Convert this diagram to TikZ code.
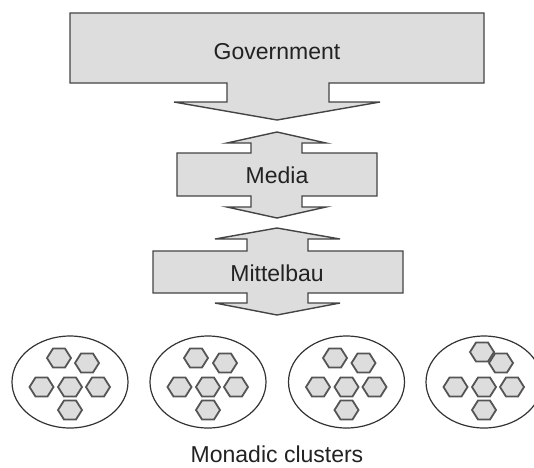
\documentclass[tikz,border=0pt]{standalone}
\usepackage{fontspec}
\setmainfont{Liberation Sans}
\definecolor{boxfill}{HTML}{DDDDDD}
\definecolor{boxline}{HTML}{444444}
\definecolor{hexline}{HTML}{555555}
\definecolor{txt}{HTML}{222222}
\begin{document}
\begin{tikzpicture}[x=1pt,y=-1pt,
  block/.style={draw=boxline,fill=boxfill,line width=1.4pt,line join=miter},
  cluster/.style={draw=black!80,line width=1.2pt},
  label/.style={font=\fontsize{23}{27}\selectfont,text=txt,anchor=base,inner sep=0pt},
  hexcell/.pic={\draw[draw=hexline,fill=boxfill,line width=1.8pt,line join=miter]
     (-12,0)--(-6,-9.5)--(6,-9.5)--(12,0)--(6,9.5)--(-6,9.5)--cycle;}]
\clip (0,0) rectangle (534,467);
% Government
\draw[block] (70,13)--(484,13)--(484,83)--(329,83)--(329,102)--(380,102)--(277,120)
  --(174,102)--(227,102)--(227,83)--(70,83)--cycle;
\node[label] (gov) at (277,59) {Government};
% Media
\draw[block] (177,153)--(251,153)--(251,143)--(227,143)--(277,132)--(326,143)--(302,143)
  --(302,153)--(377,153)--(377,196)--(302,196)--(302,207)--(326,207)--(277,218)
  --(227,207)--(251,207)--(251,196)--(177,196)--cycle;
\node[label] (media) at (277,183) {Media};
% Mittelbau
\draw[block] (153,251)--(247,251)--(247,239)--(215,239)--(277,228)--(340,239)--(308,239)
  --(308,251)--(403,251)--(403,293)--(308,293)--(308,303)--(340,303)--(277,315)
  --(215,303)--(247,303)--(247,293)--(153,293)--cycle;
\node[label] (mittel) at (277,281) {Mittelbau};
% Clusters
\foreach \cx/\tx/\ty in {70/-11/-24, 208/-12/-24, 346.5/-11.5/-24, 484/-2/-30} {
  \draw[cluster] (\cx,382) ellipse [x radius=58, y radius=46];
  \pic at (\cx+\tx,382+\ty) {hexcell};
  \pic at (\cx+17,363) {hexcell};
  \pic at (\cx-28.5,387) {hexcell};
  \pic at (\cx,387) {hexcell};
  \pic at (\cx+28,387) {hexcell};
  \pic at (\cx,410) {hexcell};
}
\node[label] (mc) at (277,462) {Monadic clusters};
\end{tikzpicture}
\end{document}
